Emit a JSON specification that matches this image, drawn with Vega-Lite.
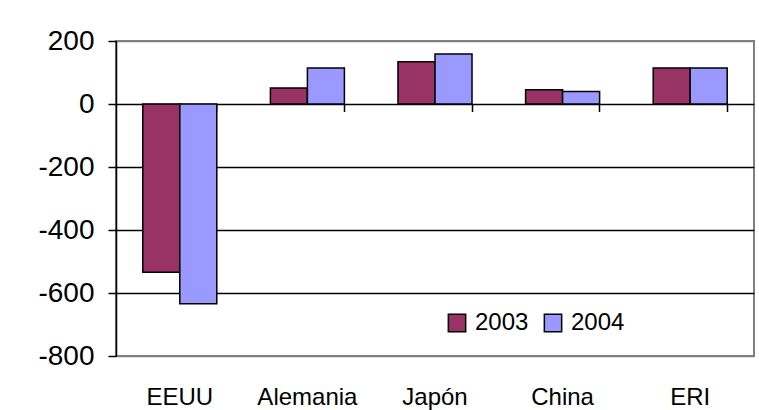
{
  "$schema": "https://vega.github.io/schema/vega-lite/v6.json",
  "autosize": "none",
  "width": 638,
  "height": 315,
  "padding": {"left": 116, "top": 41, "right": 5, "bottom": 54},
  "background": "white",
  "config": {
    "font": "Liberation Sans",
    "view": {"stroke": "#808080", "strokeWidth": 2}
  },
  "data": {
    "values": [
      {"pais": "EEUU", "anio": "2003", "valor": -534},
      {"pais": "EEUU", "anio": "2004", "valor": -634},
      {"pais": "Alemania", "anio": "2003", "valor": 51},
      {"pais": "Alemania", "anio": "2004", "valor": 114},
      {"pais": "Japón", "anio": "2003", "valor": 134},
      {"pais": "Japón", "anio": "2004", "valor": 159},
      {"pais": "China", "anio": "2003", "valor": 45},
      {"pais": "China", "anio": "2004", "valor": 40},
      {"pais": "ERI", "anio": "2003", "valor": 114},
      {"pais": "ERI", "anio": "2004", "valor": 114}
    ]
  },
  "mark": {"type": "bar", "stroke": "black", "strokeWidth": 1.5},
  "encoding": {
    "x": {
      "field": "pais",
      "type": "nominal",
      "sort": ["EEUU", "Alemania", "Japón", "China", "ERI"],
      "scale": {"paddingInner": 0.42, "paddingOuter": 0.21},
      "axis": {
        "title": null,
        "orient": "bottom",
        "offset": -252.5,
        "domain": false,
        "ticks": true,
        "tickColor": "black",
        "tickWidth": 1.5,
        "tickSize": 8,
        "bandPosition": 1,
        "labelOffset": 0,
        "labelAngle": 0,
        "labelFontSize": 24,
        "labelColor": "black",
        "labelBaseline": "alphabetic",
        "labelPadding": 293,
        "grid": false
      }
    },
    "xOffset": {
      "field": "anio",
      "type": "nominal",
      "scale": {"paddingInner": 0, "paddingOuter": 0}
    },
    "y": {
      "field": "valor",
      "type": "quantitative",
      "scale": {"domain": [-800, 200], "nice": false},
      "axis": {
        "title": null,
        "values": [-800, -600, -400, -200, 0, 200],
        "labelExpr": "replace(datum.label, '−', '-')",
        "domainColor": "black",
        "domainWidth": 1.5,
        "tickColor": "black",
        "tickWidth": 1.5,
        "tickSize": 8,
        "labelFontSize": 28,
        "labelColor": "black",
        "labelPadding": 14,
        "grid": true,
        "gridColor": {
          "condition": {"test": "datum.value == 200 || datum.value == -800", "value": "#808080"},
          "value": "black"
        },
        "gridWidth": 1.5,
        "gridOpacity": 1
      }
    },
    "color": {
      "field": "anio",
      "type": "nominal",
      "scale": {"domain": ["2003", "2004"], "range": ["#993366", "#9999FF"]},
      "legend": {
        "title": null,
        "orient": "none",
        "legendX": 329,
        "legendY": 270,
        "direction": "horizontal",
        "symbolType": "square",
        "symbolSize": 300,
        "symbolStrokeColor": "black",
        "symbolStrokeWidth": 1.5,
        "symbolOpacity": 1,
        "labelFontSize": 24,
        "labelColor": "black",
        "labelOffset": 6,
        "columnPadding": 12,
        "padding": 0
      }
    }
  }
}
